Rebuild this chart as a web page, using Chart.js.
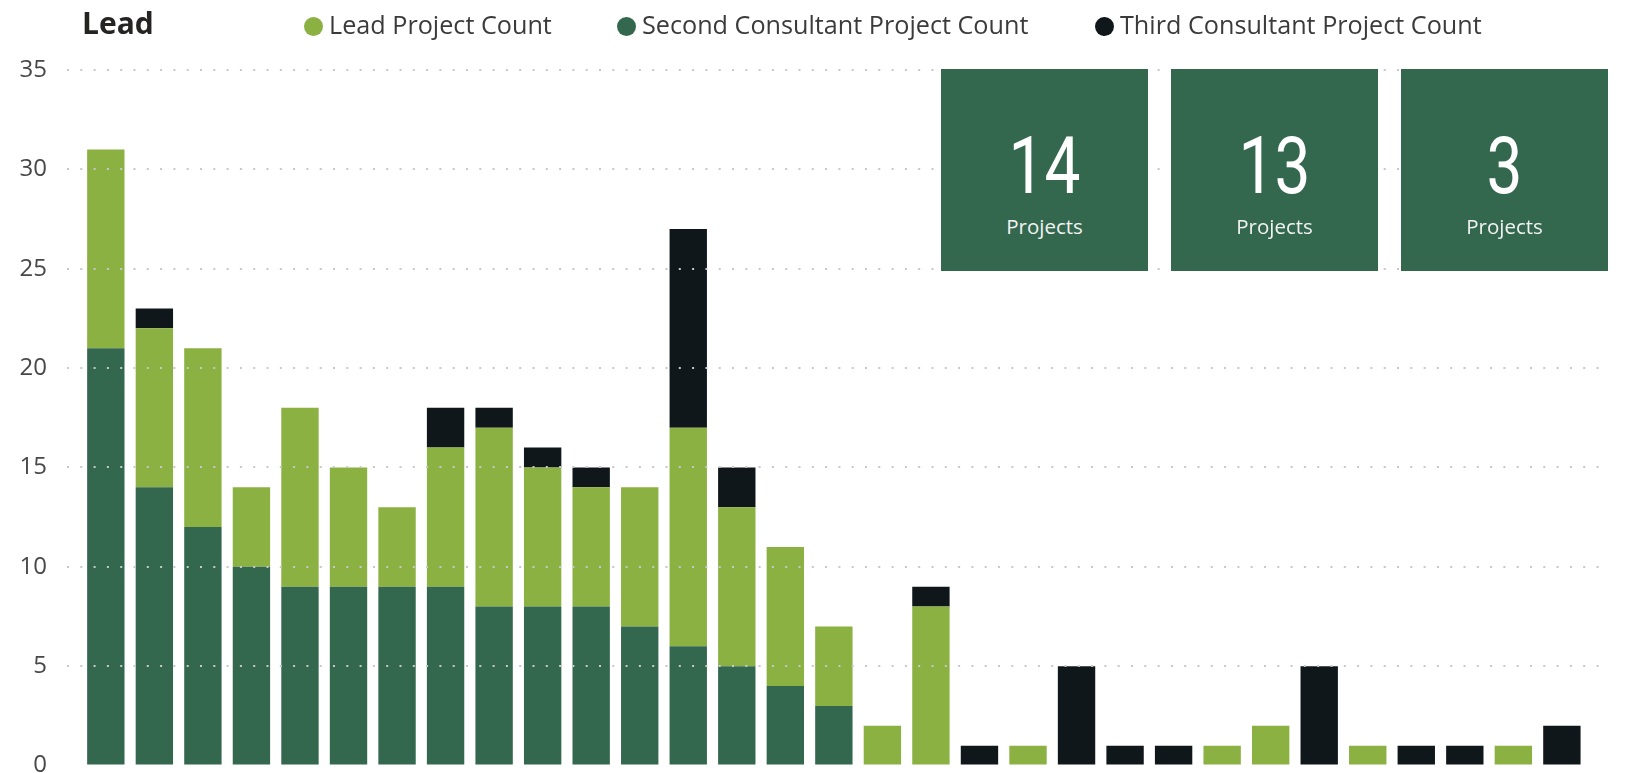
<!DOCTYPE html>
<html>
<head>
<meta charset="utf-8">
<script src="https://cdn.jsdelivr.net/npm/chart.js@4.4.1/dist/chart.umd.min.js"></script>
<style>
  html, body { margin: 0; padding: 0; background: #fff; overflow: hidden; }
  #wrap { position: relative; width: 1627px; height: 773px; }
  #chart { position: absolute; left: 0; top: 0; }
  .title { position: absolute; left: 82px; top: 8px; font: bold 30px/1 "Open Sans", sans-serif; color: #252423; }
  .legend-item { position: absolute; top: 12px; font: 25.2px/1 "Open Sans", sans-serif; color: #3b3b3b; white-space: nowrap; }
  .legend-item i { position: absolute; width: 19px; height: 19px; border-radius: 50%; top: 4.5px; left: -25px; }
  .card { position: absolute; top: 69px; width: 207px; height: 202px; background: #33684f; color: #fff; text-align: center; }
  .card .num { position: absolute; left: 0; right: 0; top: 57px; font: 80px/1 Roboto, sans-serif; transform: scaleX(0.8); }
  .card .lbl { position: absolute; left: 0; right: 0; top: 147px; font: 20.5px/1 "Open Sans", sans-serif; color: #f2f2f2; }
</style>
</head>
<body>
<div id="wrap">
  <canvas id="chart" width="1627" height="800"></canvas>
  <div class="title">Lead</div>
  <div id="legend"></div>
  <div id="cards"></div>
</div>
<script>
// consultants ranked by project count (names not shown on the chart)
const categories = [1, 2, 3, 4, 5, 6, 7, 8, 9, 10, 11, 12, 13, 14, 15, 16,
  17, 18, 19, 20, 21, 22, 23, 24, 25, 26, 27, 28, 29, 30, 31];

const secondCount = [21, 14, 12, 10, 9, 9, 9, 9, 8, 8, 8, 7, 6, 5, 4, 3,
  0, 0, 0, 0, 0, 0, 0, 0, 0, 0, 0, 0, 0, 0, 0];
const leadCount = [10, 8, 9, 4, 9, 6, 4, 7, 9, 7, 6, 7, 11, 8, 7, 4,
  2, 8, 0, 1, 0, 0, 0, 1, 2, 0, 1, 0, 0, 1, 0];
const thirdCount = [0, 1, 0, 0, 0, 0, 0, 2, 1, 1, 1, 0, 10, 2, 0, 0,
  0, 1, 1, 0, 5, 1, 1, 0, 0, 5, 0, 1, 1, 0, 2];

const yTicks = [0, 5, 10, 15, 20, 25, 30, 35];

const cardValues = [14, 13, 3];
const cardLabels = ['Projects', 'Projects', 'Projects'];

const GREEN_LIGHT = '#8ab141';
const GREEN_DARK = '#33684f';
const BLACK = '#10171a';

// legend order as shown; stack order is dark, light, black from the bottom
const legendItems = [
  { name: 'Lead Project Count', color: GREEN_LIGHT, left: 329 },
  { name: 'Second Consultant Project Count', color: GREEN_DARK, left: 642 },
  { name: 'Third Consultant Project Count', color: BLACK, left: 1120 },
];

const legendEl = document.getElementById('legend');
legendItems.forEach(item => {
  const d = document.createElement('div');
  d.className = 'legend-item';
  d.style.left = item.left + 'px';
  d.textContent = item.name;
  const dot = document.createElement('i');
  dot.style.background = item.color;
  d.appendChild(dot);
  legendEl.appendChild(d);
});

const cardsEl = document.getElementById('cards');
const cardLefts = [941, 1171, 1401];
cardValues.forEach((v, i) => {
  const c = document.createElement('div');
  c.className = 'card';
  c.style.left = cardLefts[i] + 'px';
  c.innerHTML = '<div class="num">' + v + '</div><div class="lbl">' + cardLabels[i] + '</div>';
  cardsEl.appendChild(c);
});

const toPoints = arr => arr.map((v, i) => ({ x: categories[i], y: v }));

const ctx = document.getElementById('chart').getContext('2d');
new Chart(ctx, {
  type: 'bar',
  data: {
    datasets: [
      { label: 'Second Consultant Project Count', data: toPoints(secondCount), backgroundColor: GREEN_DARK },
      { label: 'Lead Project Count', data: toPoints(leadCount), backgroundColor: GREEN_LIGHT },
      { label: 'Third Consultant Project Count', data: toPoints(thirdCount), backgroundColor: BLACK },
    ],
  },
  options: {
    responsive: false,
    animation: false,
    layout: { padding: { top: 70, bottom: 33, left: 0, right: 19 } },
    datasets: {
      bar: { grouped: false, barPercentage: 0.77, categoryPercentage: 1, borderWidth: 0 },
    },
    plugins: {
      legend: { display: false },
      tooltip: { enabled: false },
    },
    scales: {
      x: {
        type: 'linear',
        display: false,
        offset: false,
        min: 0.2,
        max: 31.95,
      },
      y: {
        stacked: true,
        min: 0,
        max: 35,
        afterFit: scale => { scale.width = 67; },
        afterBuildTicks: scale => { scale.ticks = yTicks.map(v => ({ value: v })); },
        border: { display: false, dash: [2, 11.3] },
        grid: {
          z: 1,
          drawTicks: false,
          lineWidth: 2,
          color: c => (c.tick && c.tick.value === 0 ? 'rgba(0,0,0,0)' : '#c8c8c8'),
        },
        ticks: {
          padding: 20,
          color: '#484848',
          font: { family: 'Open Sans', size: 24 },
        },
      },
    },
  },
});
</script>
</body>
</html>
